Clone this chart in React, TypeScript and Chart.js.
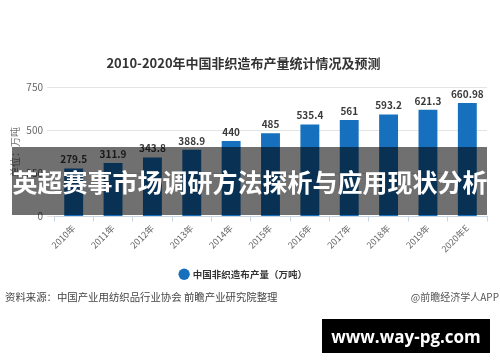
import React, { useEffect, useRef } from "react";
import { Chart, registerables } from "chart.js";

Chart.register(...registerables);

const categories = ["2010年", "2011年", "2012年", "2013年", "2014年", "2015年", "2016年", "2017年", "2018年", "2019年", "2020年E"];
const production = [279.5, 311.9, 343.8, 388.9, 440, 485, 535.4, 561, 593.2, 621.3, 660.98];
const valueLabels = ["279.5", "311.9", "343.8", "388.9", "440", "485", "535.4", "561", "593.2", "621.3", "660.98"];
const yTicks = [0, 250, 500, 750];

const titleText = "2010-2020年中国非织造布产量统计情况及预测";
const seriesName = "中国非织造布产量（万吨）";
const yAxisTitle = "单位：万吨";
const overlayText = "英超赛事市场调研方法探析与应用现状分析";
const sourceText = "资料来源：中国产业用纺织品行业协会 前瞻产业研究院整理";
const creditText = "@前瞻经济学人APP";
const siteText = "www.way-pg.com";

const FONT = "'Noto Sans CJK SC', 'Noto Sans', sans-serif";

const valueLabelPlugin = {
  id: "valueLabels",
  afterDatasetsDraw(chart: any) {
    const ctx = chart.ctx;
    const meta = chart.getDatasetMeta(0);
    ctx.save();
    ctx.font = `bold 10px ${FONT}`;
    ctx.fillStyle = "#3a3a3a";
    ctx.textAlign = "center";
    ctx.textBaseline = "middle";
    meta.data.forEach((bar: any, i: number) => {
      ctx.fillText(valueLabels[i], bar.x, bar.y - 9);
    });
    ctx.restore();
  },
};

export default function App() {
  const canvasRef = useRef<HTMLCanvasElement | null>(null);

  useEffect(() => {
    if (!canvasRef.current) return;
    const chart = new Chart(canvasRef.current, {
      type: "bar",
      data: {
        labels: categories,
        datasets: [
          {
            label: seriesName,
            data: production,
            backgroundColor: "#1670bd",
            borderWidth: 0,
            categoryPercentage: 1,
            barPercentage: 0.48,
          },
        ],
      },
      options: {
        animation: false,
        responsive: false,
        maintainAspectRatio: false,
        layout: { padding: { left: 0, right: 13, top: 0, bottom: 73 } },
        plugins: {
          title: {
            display: true,
            text: titleText,
            color: "#333333",
            font: { family: FONT, size: 13, weight: "bold" },
            padding: { top: 55, bottom: 17 },
          },
          legend: {
            display: true,
            position: "bottom",
            labels: {
              usePointStyle: true,
              pointStyle: "circle",
              boxWidth: 8,
              boxHeight: 8,
              color: "#333333",
              font: { family: FONT, size: 9.5, weight: "bold" },
              padding: 14,
            },
          },
          tooltip: { enabled: false },
        },
        scales: {
          x: {
            grid: {
              display: true,
              drawOnChartArea: false,
              drawTicks: true,
              tickLength: 5,
              color: "#c9d6e2",
            },
            border: { display: true, color: "#c9d6e2" },
            ticks: {
              color: "#666666",
              font: { family: FONT, size: 9 },
              maxRotation: 45,
              minRotation: 45,
              padding: 1,
            },
          },
          y: {
            min: 0,
            max: 750,
            afterBuildTicks: (scale: any) => {
              scale.ticks = yTicks.map((v) => ({ value: v }));
            },
            afterFit: (scale: any) => {
              scale.width = 54;
            },
            grid: {
              color: "#e4e4e4",
              drawTicks: true,
              tickLength: 7,
            },
            border: { display: false },
            ticks: {
              color: "#666666",
              font: { family: FONT, size: 10 },
              padding: 4,
            },
            title: {
              display: true,
              text: yAxisTitle,
              color: "#777777",
              font: { family: FONT, size: 10 },
              padding: { top: 9, bottom: 0 },
            },
          },
        },
      },
      plugins: [valueLabelPlugin],
    });
    return () => chart.destroy();
  }, []);

  return (
    <div
      style={{
        position: "fixed",
        left: 0,
        top: 0,
        width: 500,
        height: 362,
        background: "#ffffff",
        overflow: "hidden",
        fontFamily: FONT,
      }}
    >
      <canvas ref={canvasRef} width={500} height={362} style={{ position: "absolute", left: 0, top: 0 }} />
      <div
        style={{
          position: "absolute",
          left: 12,
          top: 147,
          width: 475,
          height: 68,
          background: "rgba(0,0,0,0.56)",
        }}
      />
      <div
        style={{
          position: "absolute",
          left: 0,
          top: 147,
          width: 500,
          height: 68,
          display: "flex",
          alignItems: "center",
          justifyContent: "center",
          color: "#ffffff",
          fontWeight: "bold",
          fontSize: 25,
          lineHeight: "68px",
          whiteSpace: "nowrap",
        }}
      >
        {overlayText}
      </div>
      <div
        style={{
          position: "absolute",
          left: 5,
          top: 290,
          fontSize: 10.4,
          lineHeight: "14px",
          color: "#444444",
          whiteSpace: "nowrap",
        }}
      >
        {sourceText}
      </div>
      <div
        style={{
          position: "absolute",
          right: 1,
          top: 290,
          fontSize: 10,
          lineHeight: "14px",
          color: "#555555",
          whiteSpace: "nowrap",
        }}
      >
        {creditText}
      </div>
      <div
        style={{
          position: "absolute",
          left: 322,
          top: 319,
          width: 168,
          height: 34,
          background: "#000000",
          color: "#ffffff",
          display: "flex",
          alignItems: "center",
          justifyContent: "center",
          fontFamily: "'Open Sans', 'DejaVu Sans', sans-serif",
          fontWeight: "bold",
          fontSize: 17,
          whiteSpace: "nowrap",
        }}
      >
        {siteText}
      </div>
    </div>
  );
}
